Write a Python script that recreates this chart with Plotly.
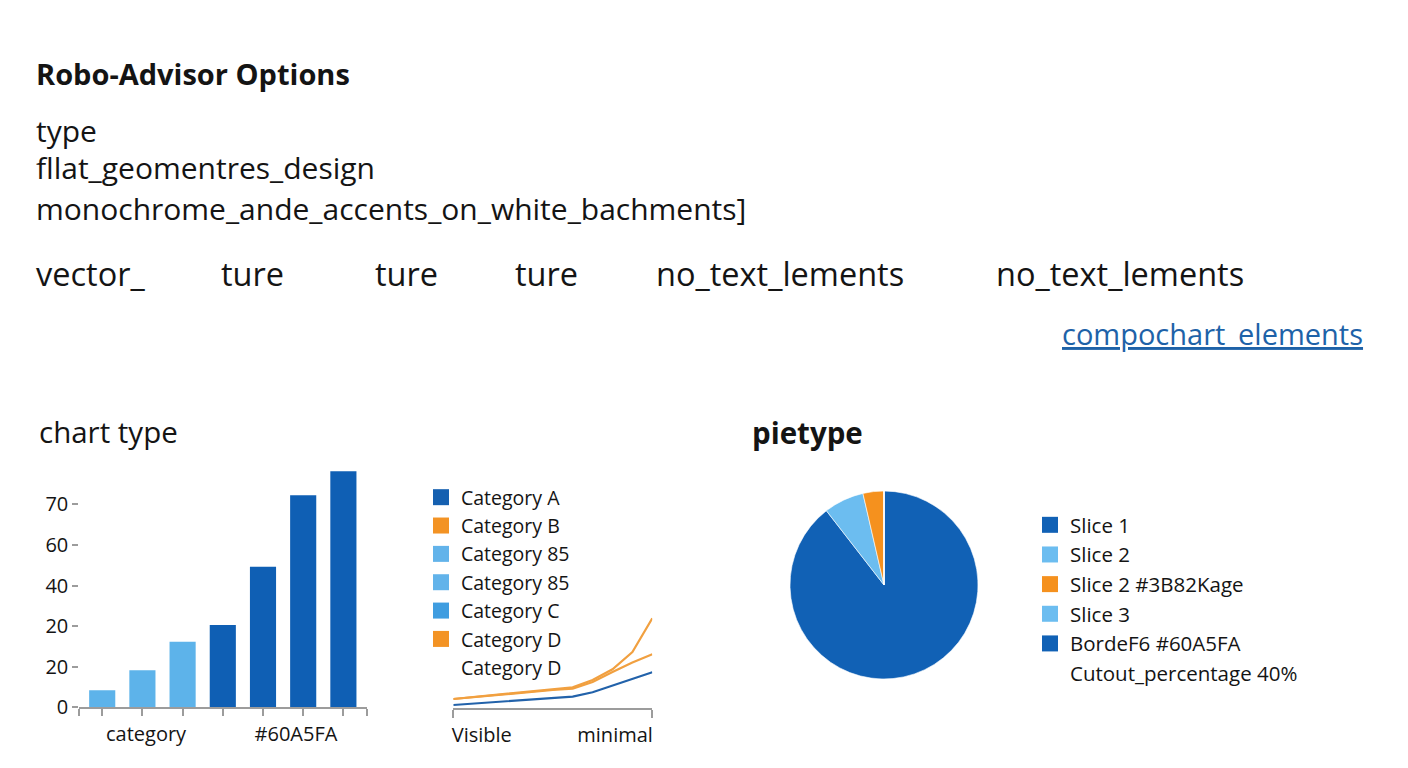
import plotly.graph_objects as go

# The page body has an 8px default margin; size the figure so the page is exactly 1408x768.
PAGE_W, PAGE_H = 1408, 768
OFF = 8
FW, FH = PAGE_W - 2 * OFF, PAGE_H - 2 * OFF
FONT = "Open Sans"
INK = "#141414"
GRAY = "#9c9c9c"
DARK = "#0F5FB4"
LIGHT = "#5DB3EA"
ORANGE = "#F5911E"

# ---------------- data ----------------
bar_x = [1, 2, 3, 4, 5, 6, 7]
bar_values = [5.9, 12.8, 22.6, 28.4, 48.5, 73.1, 81.4]
bar_tones = ["light", "light", "light", "dark", "dark", "dark", "dark"]
bar_ytickvals = [0, 14, 28, 42, 56, 70]
bar_yticktext = ["0", "20", "20", "40", "60", "70"]
bar_xticktext = ["category", "#60A5FA"]

line_x = [0, 1, 2, 3, 4, 5, 6, 7, 8, 9, 10]
line_a = [0.83, 1.18, 1.53, 1.88, 2.23, 2.58, 2.93, 4.0, 5.65, 7.33, 9.0]
line_b = [2.33, 2.8, 3.3, 3.78, 4.28, 4.75, 5.23, 7.08, 9.75, 14.08, 22.5]
line_d = [2.33, 2.78, 3.25, 3.73, 4.2, 4.58, 4.88, 6.58, 9.05, 11.43, 13.5]
line_xticktext = ["Visible", "minimal"]

line_legend_labels = ["Category A", "Category B", "Category 85", "Category 85",
                      "Category C", "Category D", "Category D"]
line_legend_colors = ["#1560B0", "#F39324", "#62B3EA", "#62B3EA",
                      "#3F9DE0", "#F39324", "rgba(0,0,0,0)"]

pie_labels = ["Slice 1", "Slice 2", "Slice 2 #3B82Kage", "Slice 3",
              "BordeF6 #60A5FA", "Cutout_percentage 40%"]
pie_values = [89.5, 6.9, 3.6, 0, 0, 0]
pie_colors = ["#1161B5", "#6CBDF0", ORANGE, "#6CBDF0", "#1161B5", "rgba(0,0,0,0)"]

row_labels = ["vector_", "ture", "ture", "ture", "no_text_lements", "no_text_lements"]
row_x = [37, 222, 376, 516, 657, 997]


def fx(x):
    """page pixel x -> paper fraction"""
    return (x - OFF) / FW


def fy(y):
    """page pixel y (from top) -> paper fraction"""
    return 1 - (y - OFF) / FH


# ---------------- figure ----------------
fig = go.Figure()

tone_color = {"light": LIGHT, "dark": DARK}
fig.add_trace(go.Bar(
    x=bar_x, y=bar_values, width=0.65,
    marker=dict(color=[tone_color[t] for t in bar_tones], line=dict(width=0)),
    showlegend=False, xaxis="x", yaxis="y", hoverinfo="skip"))

fig.add_trace(go.Scatter(x=line_x, y=line_a, mode="lines",
                         line=dict(color="#2262AA", width=2.2),
                         showlegend=False, xaxis="x2", yaxis="y2", hoverinfo="skip"))
fig.add_trace(go.Scatter(x=line_x, y=line_d, mode="lines",
                         line=dict(color="#F1A040", width=2.2),
                         showlegend=False, xaxis="x2", yaxis="y2", hoverinfo="skip"))
fig.add_trace(go.Scatter(x=line_x, y=line_b, mode="lines",
                         line=dict(color="#F1A040", width=2.2),
                         showlegend=False, xaxis="x2", yaxis="y2", hoverinfo="skip"))

for lab, col in zip(line_legend_labels, line_legend_colors):
    fig.add_trace(go.Scatter(x=[None], y=[None], mode="markers", name=lab,
                             marker=dict(symbol="square", size=16, color=col,
                                         line=dict(width=0)),
                             legend="legend", xaxis="x2", yaxis="y2"))

fig.add_trace(go.Pie(
    labels=pie_labels, values=pie_values, sort=False, direction="clockwise",
    rotation=0, textinfo="none", hoverinfo="skip", showlegend=False,
    marker=dict(colors=pie_colors, line=dict(color="white", width=0.6)),
    domain=dict(x=[fx(790), fx(978)], y=[fy(680), fy(490)])))

for lab, col in zip(pie_labels, pie_colors):
    fig.add_trace(go.Scatter(x=[None], y=[None], mode="markers", name=lab,
                             marker=dict(symbol="square", size=16, color=col,
                                         line=dict(width=0)),
                             legend="legend2", xaxis="x2", yaxis="y2"))


# ---------------- annotations ----------------
def px_ann(text, x, y, size, bold=False, color=INK, xanchor="left"):
    if bold:
        text = "<b>" + text + "</b>"
    return dict(text=text, x=fx(x), y=fy(y), xref="paper", yref="paper",
                xanchor=xanchor, yanchor="middle", showarrow=False,
                font=dict(family=FONT, size=size, color=color))


anns = [
    px_ann("Robo-Advisor Options", 34, 73, 29, bold=True),
    px_ann("type", 34, 130, 30),
    px_ann("fllat_geomentres_design", 34, 167, 30),
    px_ann("monochrome_ande_accents_on_white_bachments]", 34, 208, 30),
    px_ann("<u>compochart_elements</u>", 1365, 333, 29, color="#1E62A8", xanchor="right"),
    px_ann("chart type", 37, 431, 29.5),
    px_ann("pietype", 750, 432, 29.5, bold=True),
]
for lab, x in zip(row_labels, row_x):
    anns.append(px_ann(lab, x - 3, 273, 32.5))

fig.update_layout(
    width=FW, height=FH,
    margin=dict(l=0, r=0, t=0, b=0, pad=0, autoexpand=False),
    paper_bgcolor="white", plot_bgcolor="white",
    font=dict(family=FONT, color=INK),
    annotations=anns,
    xaxis=dict(domain=[fx(79.3), fx(366.7)], range=[0.43, 7.58], anchor="y",
               automargin=False,
               showline=True, linecolor=GRAY, linewidth=1.5, showgrid=False,
               zeroline=False, tickmode="array", tickvals=[2.09, 5.82],
               ticktext=bar_xticktext, ticks="", ticklabelstandoff=8,
               tickfont=dict(size=20, family=FONT, color=INK),
               minor=dict(tickmode="array",
                          tickvals=[0.43, 1, 2, 3, 4, 5, 6, 7, 7.58],
                          ticks="outside", ticklen=7, tickwidth=1.5,
                          tickcolor=GRAY, showgrid=False)),
    yaxis=dict(domain=[fy(707.3), fy(463.7)], range=[0, 84],
               anchor="x", automargin=False,
               showline=False, showgrid=False, zeroline=False,
               tickmode="array", tickvals=bar_ytickvals, ticktext=bar_yticktext,
               ticks="outside", ticklen=6, tickwidth=1.5, tickcolor=GRAY,
               tickfont=dict(size=20, family=FONT, color=INK)),
    xaxis2=dict(domain=[fx(453.3), fx(652.3)], range=[0, 10], anchor="y2",
                automargin=False,
                showline=True, linecolor=GRAY, linewidth=1.5, showgrid=False,
                zeroline=False, tickmode="array", tickvals=[1.43, 8.13],
                ticktext=line_xticktext, ticks="", ticklabelstandoff=8,
                tickfont=dict(size=20, family=FONT, color=INK),
                minor=dict(tickmode="array", tickvals=[0, 10], ticks="outside",
                           ticklen=8, tickwidth=1.5, tickcolor=GRAY,
                           showgrid=False)),
    yaxis2=dict(domain=[fy(708.3), fy(588.3)], range=[0, 30],
                anchor="x2", visible=False, automargin=False),
    legend=dict(x=fx(421), y=fy(478), xanchor="left", yanchor="top",
                font=dict(size=19.5, family=FONT, color=INK),
                bgcolor="rgba(0,0,0,0)", tracegroupgap=0),
    legend2=dict(x=fx(1030), y=fy(505), xanchor="left", yanchor="top",
                 font=dict(size=20.5, family=FONT, color=INK),
                 bgcolor="rgba(0,0,0,0)", tracegroupgap=0),
)

fig.write_html("out.html")
